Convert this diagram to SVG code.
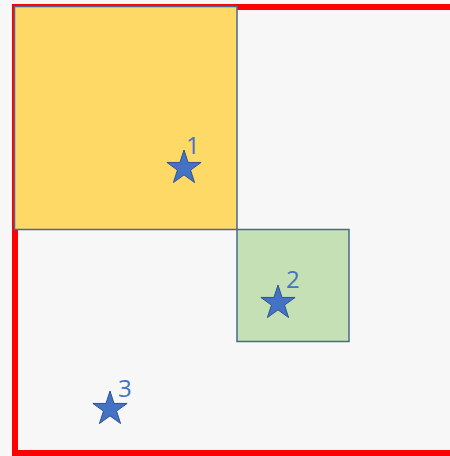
<svg xmlns="http://www.w3.org/2000/svg" width="450" height="456" viewBox="0 0 450 456">
<defs>
<style>
.box{stroke:#4A6890;stroke-width:1.5}
.star{fill:#4472C4;stroke:#2F528F;stroke-width:1}
.lbl{font-family:"Open Sans","Liberation Sans",sans-serif;font-size:24px;fill:#4472C4}
</style>
<polygon id="st" points="0,-18 4.04,-5.56 17.12,-5.56 6.54,2.12 10.58,14.56 0,6.88 -10.58,14.56 -6.54,2.12 -17.12,-5.56 -4.04,-5.56"/>
</defs>
<rect width="450" height="456" fill="#F7F7F7"/>
<rect id="frame" x="15" y="7" width="460" height="446" fill="none" stroke="#FF0000" stroke-width="6"/>
<g id="yellow"><rect class="box" x="14.5" y="6.5" width="222.5" height="223" fill="#FFD966"/></g>
<g id="green"><rect class="box" x="237" y="229.5" width="112" height="112" fill="#C5E0B4"/></g>
<g id="star1"><use href="#st" class="star" x="184" y="168"/><text class="lbl" x="186" y="154">1</text></g>
<g id="star2"><use href="#st" class="star" x="278" y="303"/><text class="lbl" x="286" y="288">2</text></g>
<g id="star3"><use href="#st" class="star" x="110" y="409"/><text class="lbl" x="118" y="397">3</text></g>
<g id="connectors"/>
</svg>
